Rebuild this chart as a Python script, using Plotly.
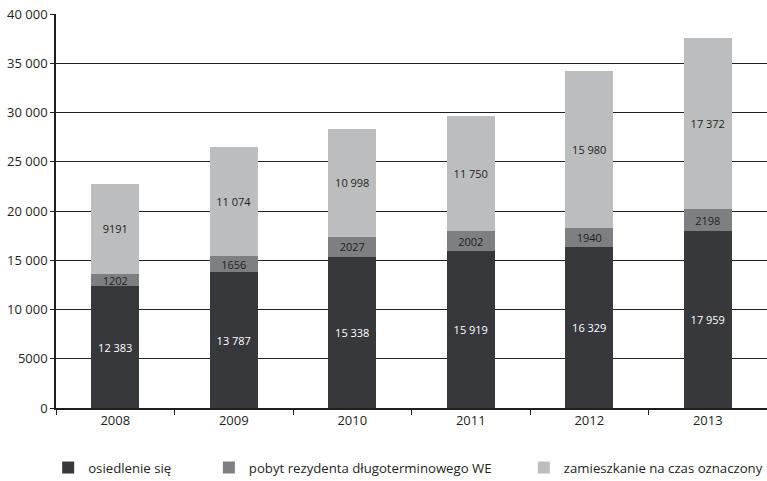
import plotly.graph_objects as go

years = ["2008", "2009", "2010", "2011", "2012", "2013"]
osiedlenie = [12383, 13787, 15338, 15919, 16329, 17959]
pobyt = [1202, 1656, 2027, 2002, 1940, 2198]
zamieszkanie = [9191, 11074, 10998, 11750, 15980, 17372]
names = ["osiedlenie się", "pobyt rezydenta długoterminowego WE", "zamieszkanie na czas oznaczony"]
colors = ["#36383c", "#7d7f83", "#bbbdbf"]
text_colors = ["white", "#231f20", "#231f20"]
y_ticks = [0, 5000, 10000, 15000, 20000, 25000, 30000, 35000, 40000]


def fmt(v):
    s = str(v)
    if v >= 10000:
        s = s[:-3] + " " + s[-3:]
    return s


FONT = "Open Sans"
legend_ids = ["legend", "legend2", "legend3"]
legend_x = [-0.011, 0.215, 0.658]

fig = go.Figure()
for vals, name, col, tcol, lid in zip([osiedlenie, pobyt, zamieszkanie], names, colors, text_colors, legend_ids):
    fig.add_trace(go.Bar(
        x=years, y=vals, name=name, marker=dict(color=col, line=dict(width=0)),
        text=[fmt(v) for v in vals], textposition="inside", insidetextanchor="middle",
        textfont=dict(color=tcol, size=11, family=FONT), textangle=0,
        constraintext="none", legend=lid,
    ))

leg_common = dict(orientation="h", y=-0.152, xanchor="left", yanchor="middle",
                  font=dict(size=13.2, family=FONT, color="#231f20"),
                  bgcolor="rgba(0,0,0,0)")

fig.update_layout(
    barmode="stack", bargap=0.595,
    width=767, height=481,
    margin=dict(l=56, r=0, t=14, b=73, autoexpand=False),
    paper_bgcolor="white", plot_bgcolor="white",
    font=dict(family=FONT, size=13, color="#231f20"),
    showlegend=True,
    legend=dict(x=legend_x[0], **leg_common),
    legend2=dict(x=legend_x[1], **leg_common),
    legend3=dict(x=legend_x[2], **leg_common),
    xaxis=dict(showline=True, linecolor="#231f20", linewidth=1.5,
               ticks="outside", ticklen=5, tickcolor="#231f20", tickson="boundaries",
               tickfont=dict(size=13, family=FONT), automargin=False),
    yaxis=dict(range=[0, 40000], tickvals=y_ticks, ticktext=[fmt(v) for v in y_ticks],
               showgrid=True, gridcolor="#231f20", gridwidth=1.3,
               showline=True, linecolor="#231f20", linewidth=1.5,
               ticks="outside", ticklen=4, tickcolor="#231f20",
               tickfont=dict(size=13, family=FONT), zeroline=False, automargin=False),
)

fig.write_html("out.html", config={"displayModeBar": False},
               post_script="document.body.style.margin='0';")
